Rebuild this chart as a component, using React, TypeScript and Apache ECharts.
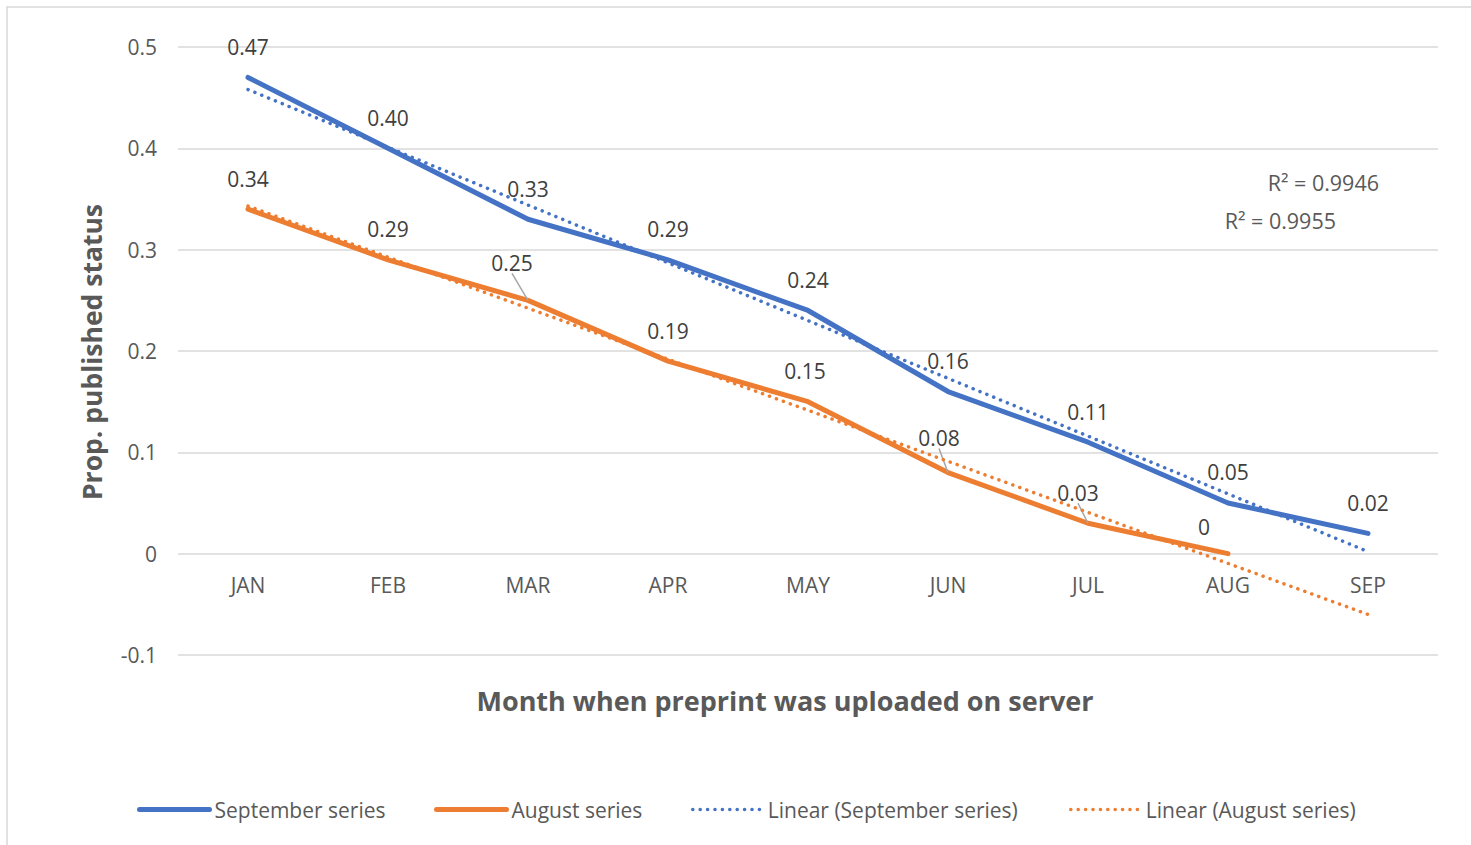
import React, { useEffect, useRef } from "react";
import * as echarts from "echarts";

const months = ["JAN", "FEB", "MAR", "APR", "MAY", "JUN", "JUL", "AUG", "SEP"];
const septemberSeries = [0.47, 0.4, 0.33, 0.29, 0.24, 0.16, 0.11, 0.05, 0.02];
const augustSeries = [0.34, 0.29, 0.25, 0.19, 0.15, 0.08, 0.03, 0];
// linear trend line end points (JAN, SEP)
const septemberTrend = [0.458, 0.002];
const augustTrend = [0.343, -0.06];
const yMin = -0.1;
const yMax = 0.5;
const yStep = 0.1;
const rSquaredTexts = ["R² = 0.9946", "R² = 0.9955"];

// label placement tweaks (pixels) for the August series
const augustLabelShift = [[0, 0], [0, 0], [-16, -7], [0, 0], [-3, 0], [-9, -4], [-10, 0], [-24, 4]];
const augustLeader = [false, false, true, false, false, true, true, false];

const BLUE = "#4472C4";
const ORANGE = "#ED7D31";
const TEXT = "#595959";
const GRID = "#d9d9d9";
const FONT = "'Open Sans', 'Noto Sans', sans-serif";

const fmt = (v: number) => (v === 0 ? "0" : v.toFixed(2));

export default function App() {
  const ref = useRef<HTMLDivElement>(null);
  useEffect(() => {
    if (!ref.current) return;
    const chart = echarts.init(ref.current, undefined, { renderer: "svg" });
    const dataLabel = {
      show: true,
      position: "top",
      distance: 20,
      color: "#404040",
      opacity: 1,
      fontSize: 21,
      fontFamily: FONT,
      formatter: (p: any) => fmt(Array.isArray(p.value) ? p.value[1] : p.value),
    };
    const legendBase = {
      top: 794,
      itemWidth: 70,
      itemHeight: 14,
      textStyle: { color: TEXT, fontSize: 21, fontFamily: FONT },
      selectedMode: false,
    };
    const dotted = { width: 3.5, type: [0.1, 7.3], cap: "round" };
    chart.setOption({
      animation: false,
      backgroundColor: "#fff",
      grid: { left: 178, right: 33, top: 47, bottom: 190 },
      xAxis: {
        type: "category",
        data: months,
        boundaryGap: true,
        offset: -101.3,
        axisTick: { show: false },
        axisLine: { show: false },
        axisLabel: { color: TEXT, fontSize: 21, fontFamily: FONT, margin: 21 },
        splitLine: { show: false },
      },
      yAxis: {
        type: "value",
        min: yMin,
        max: yMax,
        interval: yStep,
        axisLine: { show: false },
        axisTick: { show: false },
        axisLabel: { color: TEXT, fontSize: 21, fontFamily: FONT, margin: 21 },
        splitLine: { lineStyle: { color: GRID, width: 1.5 } },
      },
      legend: [
        { ...legendBase, left: 132, data: ["September series"], lineStyle: { width: 5, cap: "round" } },
        { ...legendBase, left: 429, data: ["August series"], lineStyle: { width: 5, cap: "round" } },
        { ...legendBase, left: 686, data: ["Linear (September series)"], lineStyle: { width: 3.5, type: [0.1, 7.3], cap: "round" } },
        { ...legendBase, left: 1064, data: ["Linear (August series)"], lineStyle: { width: 3.5, type: [0.1, 7.3], cap: "round" } },
      ],
      series: [
        {
          name: "September series",
          type: "line",
          data: septemberSeries,
          symbol: "circle",
          symbolSize: 0.1,
          showSymbol: true,
          itemStyle: { color: BLUE, opacity: 0 },
          lineStyle: { color: BLUE, width: 5, cap: "round", join: "round" },
          label: dataLabel,
          z: 2,
        },
        {
          name: "August series",
          type: "line",
          data: augustSeries.map((v, i) => ({
            value: v,
            labelLine: { show: augustLeader[i] },
          })),
          symbol: "circle",
          symbolSize: 0.1,
          showSymbol: true,
          itemStyle: { color: ORANGE, opacity: 0 },
          lineStyle: { color: ORANGE, width: 5, cap: "round", join: "round" },
          label: dataLabel,
          labelLayout: (p: any) => {
            const s = augustLabelShift[p.dataIndex] || [0, 0];
            return { dx: s[0], dy: s[1] };
          },
          labelLine: { show: true, length2: 0, lineStyle: { color: "#a6a6a6", width: 1.5 } },
          z: 2,
        },
        {
          name: "Linear (September series)",
          type: "line",
          data: [[0, septemberTrend[0]], [months.length - 1, septemberTrend[1]]],
          symbol: "circle",
          symbolSize: 0.1,
          showSymbol: false,
          itemStyle: { color: BLUE, opacity: 0 },
          lineStyle: { color: BLUE, ...dotted },
          z: 3,
        },
        {
          name: "Linear (August series)",
          type: "line",
          data: [[0, augustTrend[0]], [months.length - 1, augustTrend[1]]],
          symbol: "circle",
          symbolSize: 0.1,
          showSymbol: false,
          itemStyle: { color: ORANGE, opacity: 0 },
          lineStyle: { color: ORANGE, ...dotted },
          z: 3,
        },
      ],
      graphic: [
        {
          type: "rect",
          shape: { x: 7, y: 7, width: 1500, height: 900 },
          style: { fill: "none", stroke: GRID, lineWidth: 1.5 },
          silent: true,
          z: -10,
        },
        {
          type: "text",
          x: 785,
          y: 700,
          style: {
            text: "Month when preprint was uploaded on server",
            fill: TEXT,
            font: `bold 27px ${FONT}`,
            textAlign: "center",
            textVerticalAlign: "middle",
          },
        },
        {
          type: "text",
          x: 92,
          y: 352,
          rotation: Math.PI / 2,
          style: {
            text: "Prop. published status",
            fill: TEXT,
            font: `bold 26.5px ${FONT}`,
            textAlign: "center",
            textVerticalAlign: "middle",
          },
        },
        {
          type: "text",
          x: 1379,
          y: 182,
          style: {
            text: rSquaredTexts[0],
            fill: TEXT,
            font: `21.5px ${FONT}`,
            textAlign: "right",
            textVerticalAlign: "middle",
          },
        },
        {
          type: "text",
          x: 1336,
          y: 220,
          style: {
            text: rSquaredTexts[1],
            fill: TEXT,
            font: `21.5px ${FONT}`,
            textAlign: "right",
            textVerticalAlign: "middle",
          },
        },
      ],
    });
    return () => chart.dispose();
  }, []);
  return (
    <div
      ref={ref}
      style={{ position: "absolute", left: 0, top: 0, width: 1471, height: 845 }}
    />
  );
}
